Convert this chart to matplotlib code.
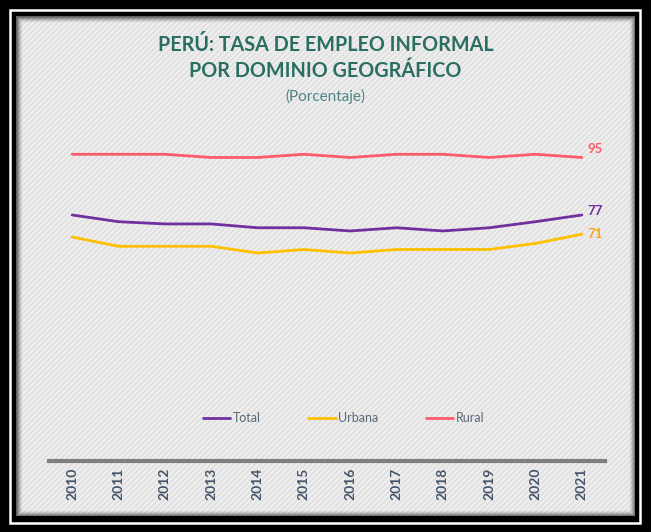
import numpy as np
import matplotlib
matplotlib.use("Agg")
import matplotlib.pyplot as plt
from matplotlib.patches import Rectangle

# Data
years = ["2010", "2011", "2012", "2013", "2014", "2015",
         "2016", "2017", "2018", "2019", "2020", "2021"]
total = [77.0, 74.9, 74.2, 74.2, 73.0, 73.0, 72.0, 73.0, 72.0, 73.0, 74.9, 77.0]
urbana = [70.1, 67.2, 67.2, 67.2, 65.1, 66.2, 65.1, 66.2, 66.2, 66.2, 68.1, 71.0]
rural = [96.0, 96.0, 96.0, 95.0, 95.0, 96.0, 95.0, 96.0, 96.0, 95.0, 96.0, 95.0]
end_labels = ["77", "71", "95"]

c_total = "#7030a0"
c_urb = "#ffc000"
c_rur = "#ff5b6b"

W, H = 651, 532
plt.rcParams["hatch.linewidth"] = 0.8
fig = plt.figure(figsize=(W / 100, H / 100), dpi=100, facecolor="black")

def px(x0, y0, x1, y1):
    # pixel box (top-down) -> figure fraction rect
    return (x0 / W, 1 - y1 / H), (x1 - x0) / W, (y1 - y0) / H

# white thin frame line
xy, w, h = px(10, 10, 640, 523)
fig.patches.append(Rectangle(xy, w, h, transform=fig.transFigure, fill=False,
                             edgecolor="white", lw=1.8, zorder=-3))
# gray hatched panel
xy, w, h = px(16, 16, 635, 516)
fig.patches.append(Rectangle(xy, w, h, transform=fig.transFigure,
                             facecolor="#e2e2e2", edgecolor="#f7f7f7",
                             hatch="//////", lw=0, zorder=-3))
# inner shadow
for i, a in enumerate([0.55, 0.4, 0.28, 0.18, 0.1, 0.05]):
    xy, w, h = px(16 + i, 16 + i, 635 - i, 516 - i)
    fig.patches.append(Rectangle(xy, w, h, transform=fig.transFigure, fill=False,
                                 edgecolor="black", alpha=a, lw=1, zorder=-2))

# axes placement
left, right = 49, 605
top, bottom = 141.5, 461
ax = fig.add_axes([left / W, 1 - bottom / H, (right - left) / W, (bottom - top) / H])
ax.set_zorder(5)
ax.set_facecolor("none")

x = np.arange(len(years))
ax.plot(x, total, color=c_total, lw=2.0, label="Total", solid_capstyle="round")
ax.plot(x, urbana, color=c_urb, lw=2.0, label="Urbana", solid_capstyle="round")
ax.plot(x, rural, color=c_rur, lw=2.0, label="Rural", solid_capstyle="round")

ax.set_xlim(-0.5, len(years) - 0.5)
ax.set_ylim(0, 100)
ax.set_yticks([])
ax.set_xticks(x)
ax.set_xticklabels(years, rotation=90, fontsize=10, fontweight="bold",
                   color="#44546a", family="Lato")
ax.tick_params(axis="x", length=0, pad=5)
for s in ["top", "right", "left"]:
    ax.spines[s].set_visible(False)
ax.spines["bottom"].set_color("#7f7f7f")
ax.spines["bottom"].set_linewidth(3)

# end labels
last = len(years) - 1
ax.annotate(end_labels[0], (last, total[-1]), xytext=(4, 3), textcoords="offset points",
            color=c_total, fontsize=9.5, fontweight="bold", family="Lato", va="center")
ax.annotate(end_labels[1], (last, urbana[-1]), xytext=(4, 0), textcoords="offset points",
            color="#f5a623", fontsize=9.5, fontweight="bold", family="Lato", va="center")
ax.annotate(end_labels[2], (last, rural[-1]), xytext=(4, 6), textcoords="offset points",
            color=c_rur, fontsize=9.5, fontweight="bold", family="Lato", va="center")

leg = ax.legend(loc="center", bbox_to_anchor=(0.53, (461 - 418) / (461 - 141.5)),
                ncol=3, frameon=False, handlelength=2.2, handletextpad=0.2,
                columnspacing=3.8, prop={"family": "Lato", "size": 9})
for t in leg.get_texts():
    t.set_color("#596a7a")

# titles
fig.text(0.5, 1 - 45 / H, "PERÚ: TASA DE EMPLEO INFORMAL", ha="center", va="center",
         fontsize=14.2, fontweight="bold", color="#2a6e62", family="Lato")
fig.text(0.5, 1 - 71 / H, "POR DOMINIO GEOGRÁFICO", ha="center", va="center",
         fontsize=14.2, fontweight="bold", color="#2a6e62", family="Lato")
fig.text(0.5, 1 - 96 / H, "(Porcentaje)", ha="center", va="center",
         fontsize=11, color="#4f8584", family="Lato")

fig.savefig("out.png", dpi=100, facecolor="black")
